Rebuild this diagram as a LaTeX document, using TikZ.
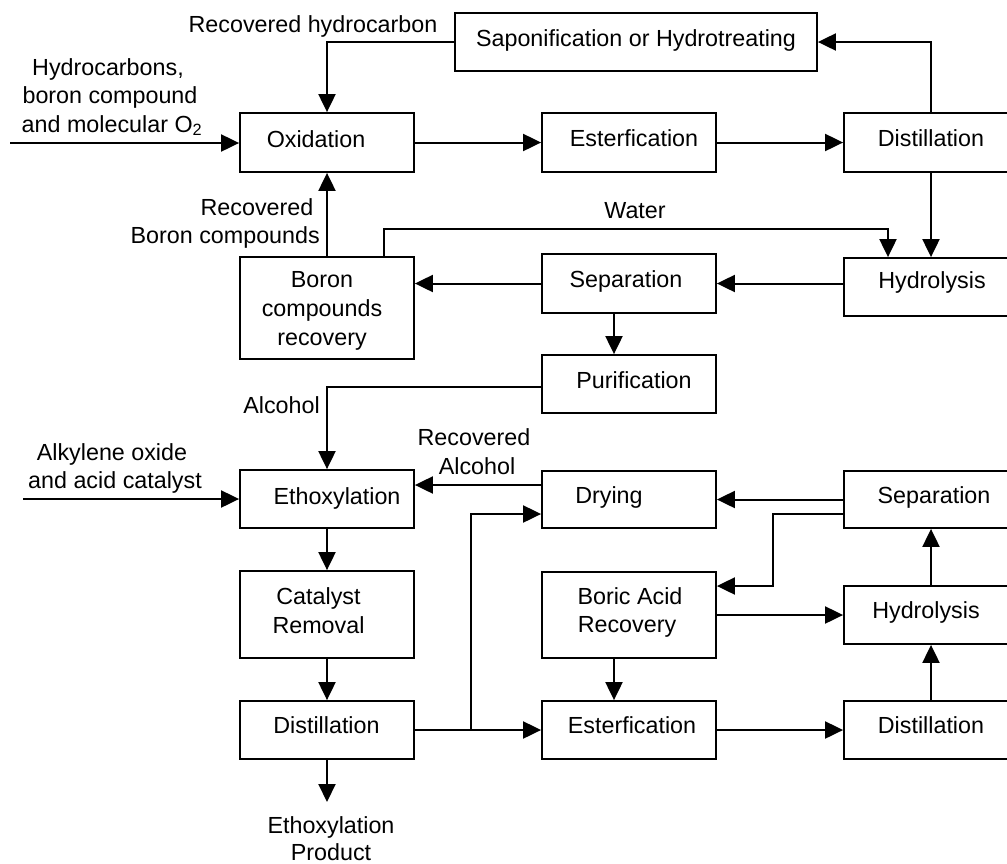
\documentclass[tikz,border=0pt]{standalone}
\usepackage{fontspec}
\setmainfont{Liberation Sans}
\usetikzlibrary{arrows.meta,calc}
\newcommand\labfont{\fontsize{23.3pt}{29pt}\selectfont}
\begin{document}
\begin{tikzpicture}[x=1pt,y=-1pt,
  box/.style={draw, line width=1.8pt, inner sep=0pt, minimum width=174pt, minimum height=58pt},
  lab/.style={font=\labfont, inner sep=0pt, anchor=base},
  arr/.style={line width=2pt, -{Triangle[length=18pt,width=17pt]}},
  conn/.style={line width=2pt}]
\clip (0,0) rectangle (1007,863);
% boxes
\node[box, minimum width=362pt] (sap) at (636,42) {};
\node[box, minimum height=59pt] (ox) at (327,142.5) {};
\node[box, minimum height=59pt] (es1) at (629,142.5) {};
\node[box, minimum height=59pt] (d1) at (931,142.5) {};
\node[box, minimum height=102pt] (bor) at (327,308) {};
\node[box, minimum height=59pt] (sep1) at (629,283.5) {};
\node[box] (hy1) at (931,287) {};
\node[box] (pur) at (629,384) {};
\node[box] (eth) at (327,499) {};
\node[box, minimum height=57pt] (dry) at (629,499.5) {};
\node[box, minimum height=57pt] (sep2) at (931,499.5) {};
\node[box, minimum height=87pt] (cat) at (327,614.5) {};
\node[box, minimum height=86pt] (bor2) at (629,615) {};
\node[box] (hy2) at (931,615) {};
\node[box] (dl) at (327,730) {};
\node[box] (el) at (629,730) {};
\node[box] (dr) at (931,730) {};
% box texts
\node[lab] (sapT) at (636,46.5) {Saponification or Hydrotreating};
\node[lab] (oxT) at (316,147) {Oxidation};
\node[lab] (es1T) at (634,146.5) {Esterfication};
\node[lab] (d1T) at (931,146.5) {Distillation};
\node[lab] (borT1) at (322,287.5) {Boron};
\node[lab] (borT2) at (322,316.5) {compounds};
\node[lab] (borT3) at (322,345.5) {recovery};
\node[lab] (sep1T) at (626,287.5) {Separation};
\node[lab] (hy1T) at (932,288.5) {Hydrolysis};
\node[lab] (purT) at (634,388.5) {Purification};
\node[lab] (ethT) at (337,504.5) {Ethoxylation};
\node[lab] (dryT) at (609,503) {Drying};
\node[lab] (sep2T) at (934,503) {Separation};
\node[lab] (catT1) at (318.5,604.5) {Catalyst};
\node[lab] (catT2) at (318.5,633.5) {Removal};
\node[lab] (bor2T1) at (630,604) {Boric Acid};
\node[lab] (bor2T2) at (627,632.5) {Recovery};
\node[lab] (hy2T) at (926,618.5) {Hydrolysis};
\node[lab] (dlT) at (326.5,733) {Distillation};
\node[lab] (elT) at (632,733) {Esterfication};
\node[lab] (drT) at (931,733) {Distillation};
% free labels
\node[lab] (rh) at (313,32) {Recovered hydrocarbon};
\node[lab] (hc1) at (108,75) {Hydrocarbons,};
\node[lab] (hc2) at (110,103) {boron compound};
\node[lab] (hc3) at (112,132) {and molecular O\textsubscript{2}};
\node[lab] (rb1) at (257,215) {Recovered};
\node[lab, anchor=base east] (rb2) at (320,243) {Boron compounds};
\node[lab] (wat) at (635,218) {Water};
\node[lab, anchor=base east] (alc) at (320,413) {Alcohol};
\node[lab] (ra1) at (474,445) {Recovered};
\node[lab] (ra2) at (477,474) {Alcohol};
\node[lab] (ak1) at (112,460) {Alkylene oxide};
\node[lab] (ak2) at (115,488) {and acid catalyst};
\node[lab] (ep1) at (331,833) {Ethoxylation};
\node[lab] (ep2) at (331,860) {Product};
% connectors
\coordinate (in1) at (10,143);
\draw[arr] (in1) -- (in1 -| ox.west);
\draw[arr] (sap.west) -| (ox.north);
\draw[arr] (d1.north) |- (sap.east);
\draw[arr] (ox.east) -- (es1.west);
\draw[arr] (es1.east) -- (d1.west);
\draw[arr] (d1.south) -- (hy1.north);
\coordinate (w1) at (384,229);
\coordinate (w2) at (888,229);
\draw[arr] (w1 |- bor.north) -- (w1) -- (w2) -- (w2 |- hy1.north);
\draw[arr] (hy1.west |- sep1.east) -- (sep1.east);
\draw[arr] (sep1.west) -- (sep1.west -| bor.east);
\coordinate (sp) at (614,0);
\draw[arr] (sp |- sep1.south) -- (sp |- pur.north);
\draw[arr] (bor.north) -- (ox.south);
\coordinate (al) at (0,387);
\draw[arr] (pur.west |- al) -| (eth.north);
\coordinate (in2) at (23,499);
\draw[arr] (in2) -- (eth.west);
\coordinate (ra) at (0,485);
\draw[arr] (dry.west |- ra) -- (eth.east |- ra);
\draw[arr] (eth.south) -- (cat.north);
\draw[arr] (cat.south) -- (dl.north);
\draw[arr] (dl.east) -- (el.west);
\coordinate (jn) at (471,730);
\coordinate (jt) at (471,514);
\draw[arr] (jn) -- (jt) -- (jt -| dry.west);
\coordinate (pe) at (327,802);
\draw[arr] (dl.south) -- (pe);
\draw[arr] (el.east) -- (dr.west);
\draw[arr] (dr.north) -- (hy2.south);
\draw[arr] (hy2.north) -- (sep2.south);
\draw[arr] (sep2.west) -- (dry.east);
\coordinate (c1) at (773,514);
\coordinate (c2) at (773,586);
\draw[arr] (sep2.west |- c1) -- (c1) -- (c2) -- (c2 -| bor2.east);
\draw[arr] (bor2.east) -- (hy2.west);
\draw[arr] (sp |- bor2.south) -- (sp |- el.north);
\end{tikzpicture}
\end{document}
